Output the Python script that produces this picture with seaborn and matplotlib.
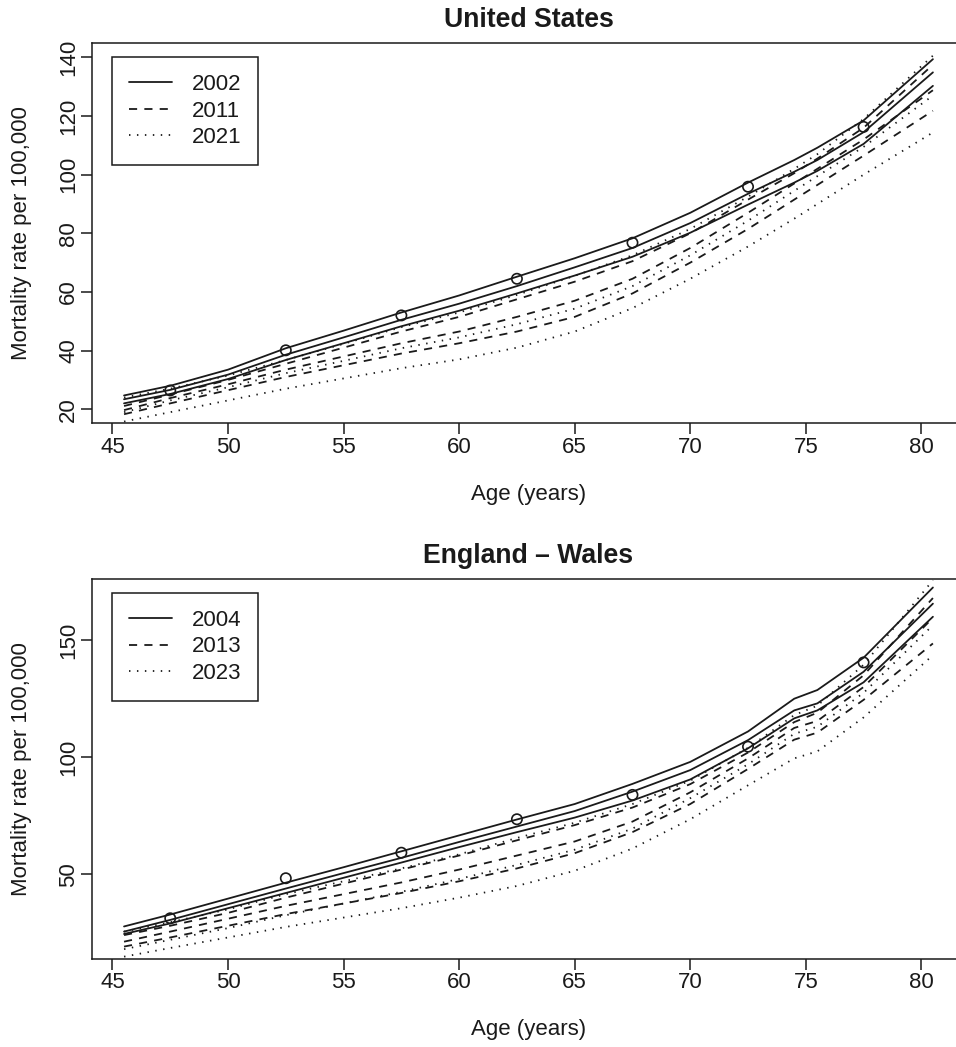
import numpy as np
import pandas as pd
import matplotlib
matplotlib.use("Agg")
import matplotlib.pyplot as plt
from matplotlib.lines import Line2D
import seaborn as sns

ages = [45.5, 47.5, 50, 52.5, 55, 57.5, 60, 62.5, 65, 67.5, 70, 72.5, 74.5, 75.5, 77.5, 80.5]
obs_ages = [47.5, 52.5, 57.5, 62.5, 67.5, 72.5, 77.5]

# United States: observed rates and lower / median / upper curves per year
us_years = ["2002", "2011", "2021"]
us_obs = [26.4, 40.1, 52.0, 64.5, 76.8, 95.9, 116.3]
us_2002_lo = [22.0, 25.2, 30.3, 36.8, 42.5, 48.3, 53.6, 59.5, 65.6, 72.0, 80.2, 89.8, 97.3, 101.3, 110.5, 130.3]
us_2002_mid = [23.4, 26.6, 31.8, 38.6, 44.5, 50.5, 56.0, 62.0, 68.4, 75.0, 83.5, 93.5, 101.0, 105.0, 114.5, 134.9]
us_2002_hi = [24.7, 28.0, 33.5, 40.8, 46.8, 53.0, 58.8, 65.2, 71.5, 78.3, 87.0, 97.3, 105.0, 109.2, 118.5, 139.4]
us_2011_lo = [18.3, 22.0, 26.5, 31.0, 35.0, 39.0, 42.5, 46.5, 51.5, 59.5, 70.0, 81.5, 91.5, 96.5, 106.5, 121.8]
us_2011_mid = [19.7, 23.8, 28.5, 33.5, 38.0, 42.5, 46.5, 51.5, 57.0, 64.5, 75.0, 87.0, 97.0, 102.0, 112.0, 128.8]
us_2011_hi = [21.1, 25.0, 30.0, 35.5, 41.0, 46.5, 51.5, 57.5, 63.5, 70.5, 80.0, 91.5, 100.5, 105.5, 116.0, 137.5]
us_2021_lo = [15.8, 19.0, 23.0, 27.0, 30.5, 34.0, 37.0, 41.0, 46.5, 54.5, 64.5, 75.5, 85.0, 90.0, 100.0, 114.4]
us_2021_mid = [19.0, 23.0, 27.5, 32.3, 36.5, 40.8, 44.5, 49.0, 54.3, 62.0, 72.5, 84.3, 94.5, 99.5, 109.5, 127.0]
us_2021_hi = [24.0, 27.0, 31.5, 36.8, 42.3, 48.0, 53.0, 59.0, 65.5, 72.5, 81.5, 92.5, 102.0, 107.0, 119.0, 140.6]

# England - Wales
ew_years = ["2004", "2013", "2023"]
ew_obs = [31.2, 48.3, 59.2, 73.5, 83.9, 104.5, 140.5]
ew_2004_lo = [24.5, 29.0, 35.5, 42.0, 48.5, 55.0, 61.6, 68.0, 74.2, 81.5, 90.5, 103.8, 116.6, 120.0, 132.0, 160.0]
ew_2004_mid = [25.5, 30.5, 37.2, 43.9, 50.5, 57.0, 63.8, 70.4, 77.0, 85.3, 94.5, 107.3, 120.0, 123.0, 136.5, 165.6]
ew_2004_hi = [27.7, 32.8, 39.6, 46.4, 53.0, 59.8, 66.6, 73.4, 80.0, 88.6, 98.0, 111.0, 125.0, 128.7, 142.5, 172.5]
ew_2013_lo = [19.1, 23.0, 28.0, 33.0, 37.5, 42.0, 47.0, 52.5, 59.0, 68.0, 80.0, 95.0, 107.5, 110.5, 124.5, 148.6]
ew_2013_mid = [21.2, 25.5, 31.0, 36.5, 41.5, 46.5, 52.0, 58.0, 64.0, 72.5, 85.0, 99.5, 112.5, 115.5, 130.0, 159.5]
ew_2013_hi = [24.0, 28.0, 33.5, 40.0, 46.0, 52.0, 58.0, 64.5, 71.0, 78.5, 88.5, 102.0, 115.0, 119.0, 135.0, 168.0]
ew_2023_lo = [14.8, 18.5, 23.0, 27.5, 31.5, 35.5, 40.0, 45.0, 51.5, 61.0, 73.5, 88.0, 99.5, 102.5, 117.0, 143.6]
ew_2023_mid = [18.0, 22.0, 27.0, 32.5, 37.5, 42.5, 48.0, 54.0, 60.5, 69.5, 82.5, 97.0, 110.0, 113.0, 127.5, 156.4]
ew_2023_hi = [25.5, 29.5, 35.0, 41.5, 47.0, 52.5, 58.5, 65.5, 72.0, 80.0, 90.0, 104.0, 118.0, 122.0, 139.5, 175.6]

INK = "#1a1a1a"
LW = 1.3
PATTERNS = ["", (4.5, 4.0), (0.8, 3.6)]  # solid, dashed, dotted

sns.set_theme(style="ticks", rc={
    "axes.edgecolor": INK,
    "axes.linewidth": 1.1,
    "text.color": INK,
    "axes.labelcolor": INK,
    "xtick.color": INK,
    "ytick.color": INK,
})
plt.rcParams["font.family"] = ["Liberation Sans", "DejaVu Sans"]


def to_long(years, curves):
    rows = []
    for year, (lo, mid, hi) in zip(years, curves):
        for band, vals in (("lo", lo), ("mid", mid), ("hi", hi)):
            for a, v in zip(ages, vals):
                rows.append({"age": a, "rate": v, "year": year, "band": band})
    return pd.DataFrame(rows)


def draw_panel(ax, years, curves, obs, title, yticks, ylim):
    df = to_long(years, curves)
    sns.lineplot(data=df, x="age", y="rate", style="year", units="band",
                 estimator=None, dashes=dict(zip(years, PATTERNS)),
                 color=INK, linewidth=LW, legend=False, ax=ax)
    sns.scatterplot(x=obs_ages, y=obs, ax=ax, s=55, marker="o",
                    facecolor="none", edgecolor=INK, linewidth=1.2, zorder=3)

    ax.set_xlim(44.1, 81.9)
    ax.set_ylim(*ylim)
    ax.set_xticks(range(45, 81, 5))
    ax.set_yticks(yticks)

    ax.set_title(title, fontsize=19.2, fontweight="bold", pad=12)
    ax.set_xlabel("Age (years)", fontsize=16)
    ax.set_ylabel("Mortality rate per 100,000", fontsize=16)
    ax.xaxis.set_label_coords(0.5, -0.159)
    ax.yaxis.set_label_coords(-0.0678, 0.5)

    ax.tick_params(axis="both", direction="out", length=8, width=1.1,
                   labelsize=16)
    ax.tick_params(axis="x", pad=2)
    ax.tick_params(axis="y", pad=1, labelrotation=90)
    plt.setp(ax.get_yticklabels(), va="center")

    for sp in ax.spines.values():
        sp.set_visible(True)
        sp.set_linewidth(1.1)
        sp.set_color(INK)

    handles = [Line2D([], [], color=INK, lw=LW,
                      linestyle="-" if p == "" else (0, p)) for p in PATTERNS]
    leg = ax.legend(handles, years, loc="upper left",
                    bbox_to_anchor=(0.0232, 0.9632), borderaxespad=0,
                    fontsize=16, handlelength=1.95, handletextpad=0.9,
                    borderpad=0.75, labelspacing=0.25, frameon=True,
                    fancybox=False, framealpha=1, edgecolor=INK)
    leg.get_frame().set_linewidth(1.1)


fig = plt.figure(figsize=(9.56, 10.47), dpi=100)
ax_us = fig.add_axes([0.0959, 0.5957, 0.9138, 0.3629])
ax_ew = fig.add_axes([0.0959, 0.0845, 0.9138, 0.3622])

draw_panel(ax_us, us_years,
           [(us_2002_lo, us_2002_mid, us_2002_hi),
            (us_2011_lo, us_2011_mid, us_2011_hi),
            (us_2021_lo, us_2021_mid, us_2021_hi)],
           us_obs, "United States", [20, 40, 60, 80, 100, 120, 140], (15.2, 144.8))

draw_panel(ax_ew, ew_years,
           [(ew_2004_lo, ew_2004_mid, ew_2004_hi),
            (ew_2013_lo, ew_2013_mid, ew_2013_hi),
            (ew_2023_lo, ew_2023_mid, ew_2023_hi)],
           ew_obs, "England \u2013 Wales", [50, 100, 150], (14.0, 176.0))

fig.savefig("out.png", dpi=100)
